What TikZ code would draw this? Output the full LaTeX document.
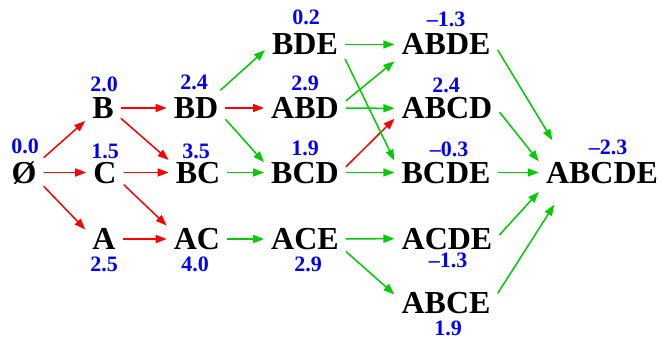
\documentclass[tikz,border=0pt]{standalone}
\usepackage{fontspec}
\setmainfont{Liberation Serif}
\usetikzlibrary{arrows.meta}
\definecolor{arrred}{RGB}{255,0,0}
\definecolor{arrgreen}{RGB}{0,204,0}
\definecolor{valblue}{RGB}{0,0,255}

\begin{document}
\begin{tikzpicture}[x=1pt,y=-1pt]
\useasboundingbox (0,0) rectangle (671,339);

\begin{scope}[every node/.style={font=\fontsize{32}{36}\selectfont\bfseries,
              text height=21pt,text depth=0pt,inner xsep=7pt,inner ysep=7pt}]
    \node (e) at (24,172.5) {Ø};
    \node (B) at (103,108) {B};
    \node (C) at (105,172.5) {C};
    \node (A) at (104,239) {A};
    \node (BD) at (196,108) {BD};
    \node (BC) at (198,172.5) {BC};
    \node (AC) at (197,239) {AC};
    \node (BDE) at (305,44.5) {BDE};
    \node (ABD) at (305,108) {ABD};
    \node (BCD) at (305,172.5) {BCD};
    \node (ACE) at (305,239) {ACE};
    \node (ABDE) at (446,44.5) {ABDE};
    \node (ABCD) at (447,108.5) {ABCD};
    \node (BCDE) at (446,172.5) {BCDE};
    \node (ACDE) at (447,238.5) {ACDE};
    \node (ABCE) at (446,302.5) {ABCE};
    \node[inner ysep=21.5pt] (ABCDE) at (602,172.5) {ABCDE};
\end{scope}

\begin{scope}[every node/.style={font=\fontsize{22}{26}\selectfont\bfseries,
              text=valblue,text height=15pt,text depth=0pt,inner sep=0pt}]
    \node (ve) at (25,146) {0.0};
    \node (vB) at (104,84.5) {2.0};
    \node (vC) at (105,151) {1.5};
    \node (vA) at (104,264) {2.5};
    \node (vBD) at (194,82.5) {2.4};
    \node (vBC) at (196,151) {3.5};
    \node (vAC) at (195,264) {4.0};
    \node (vBDE) at (306,17.5) {0.2};
    \node (vABD) at (305,83.5) {2.9};
    \node (vBCD) at (305,148.5) {1.9};
    \node (vACE) at (308,264) {2.9};
    \node (vABDE) at (446,19) {\textendash1.3};
    \node (vABCD) at (446,85) {2.4};
    \node (vBCDE) at (449,149) {\textendash0.3};
    \node (vACDE) at (448,260) {\textendash1.3};
    \node (vABCE) at (448,327.5) {1.9};
    \node (vABCDE) at (608,147) {\textendash2.3};
\end{scope}

% red arrows
\begin{scope}[every edge/.style={draw=arrred,line width=1.5pt,
              -{Triangle[length=11pt,width=8pt]}}]
    \path (e.37) edge (B.216);
    \path (e) edge (C);
    \path (e.325) edge (A.153);
    \path (B) edge (BD);
    \path (B.330) edge (BC.157);
    \path (C) edge (BC);
    \path (C.327) edge (AC.156);
    \path (A) edge (AC);
    \path (BD) edge (ABD);
    \path (BCD.8) edge (ABCD.191);
\end{scope}

% green arrows
\begin{scope}[every edge/.style={draw=arrgreen,line width=1.5pt,
              -{Triangle[length=11pt,width=8pt]}}]
    \path (BD.36) edge (BDE.188);
    \path (BD.339) edge (BCD.166);
    \path (BC) edge (BCD);
    \path (AC) edge (ACE);
    \path (BDE) edge (ABDE);
    \path (BDE.340) edge (BCDE.167);
    \path (ABD.10) edge (ABDE.198);
    \path (ABD) edge (ABCD);
    \path (BCD) edge (BCDE);
    \path (ACE) edge (ACDE);
    \path (ACE.343) edge (ABCE.171);
    \path (ABDE.354) edge (ABCDE.147);
    \path (ABCD.356) edge (ABCDE.170);
    \path (BCDE) edge (ABCDE);
    \path (ACDE.4) edge (ABCDE.197);
    \path (ABCE.10) edge (ABCDE.214);
\end{scope}
\end{tikzpicture}
\end{document}
